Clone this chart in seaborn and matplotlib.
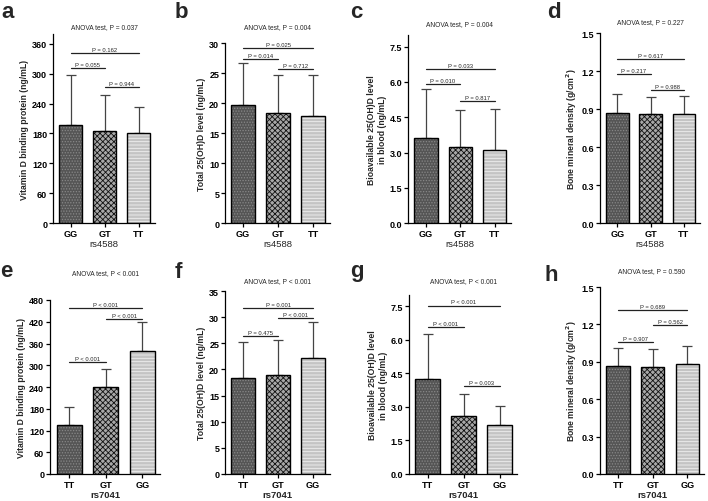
import numpy as np
import pandas as pd
import matplotlib
matplotlib.use("Agg")
import matplotlib.pyplot as plt
import seaborn as sns
from matplotlib.patches import Rectangle

sns.set_style("ticks")
plt.rcParams["font.family"] = ["Liberation Sans", "DejaVu Sans"]
plt.rcParams["hatch.linewidth"] = 0.6

# ---------------- data ----------------
rs4588_genotypes = ["GG", "GT", "TT"]
rs7041_genotypes = ["TT", "GT", "GG"]

# a: VDBP by rs4588
vdbp_rs4588_mean = [198, 185, 181]
vdbp_rs4588_sd = [99, 73, 52]
vdbp_rs4588_brk = [341, 311, 273]
vdbp_rs4588_p = ["P = 0.162", "P = 0.055", "P = 0.944"]
# b: total 25(OH)D by rs4588
tot_rs4588_mean = [19.6, 18.4, 17.8]
tot_rs4588_sd = [7.1, 6.3, 6.9]
tot_rs4588_brk = [29.2, 27.3, 25.7]
tot_rs4588_p = ["P = 0.025", "P = 0.014", "P = 0.712"]
# c: bioavailable 25(OH)D by rs4588
bio_rs4588_mean = [3.63, 3.23, 3.12]
bio_rs4588_sd = [2.09, 1.56, 1.72]
bio_rs4588_brk = [6.54, 5.91, 5.20]
bio_rs4588_p = ["P = 0.033", "P = 0.010", "P = 0.817"]
# d: BMD by rs4588
bmd_rs4588_mean = [0.871, 0.858, 0.860]
bmd_rs4588_sd = [0.148, 0.137, 0.146]
bmd_rs4588_brk = [1.292, 1.176, 1.048]
bmd_rs4588_p = ["P = 0.617", "P = 0.217", "P = 0.988"]

# e: VDBP by rs7041
vdbp_rs7041_mean = [134, 239, 340]
vdbp_rs7041_sd = [52, 52, 78]
vdbp_rs7041_brk = [459, 427, 309]
vdbp_rs7041_p = ["P < 0.001", "P < 0.001", "P < 0.001"]
# f: total 25(OH)D by rs7041
tot_rs7041_mean = [18.4, 19.0, 22.2]
tot_rs7041_sd = [6.8, 6.6, 6.8]
tot_rs7041_brk = [31.8, 29.8, 26.4]
tot_rs7041_p = ["P = 0.001", "P < 0.001", "P = 0.475"]
# g: bioavailable 25(OH)D by rs7041
bio_rs7041_mean = [4.23, 2.59, 2.21]
bio_rs7041_sd = [2.01, 0.99, 0.82]
bio_rs7041_brk = [7.53, 6.58, 3.92]
bio_rs7041_p = ["P < 0.001", "P < 0.001", "P = 0.003"]
# h: BMD by rs7041
bmd_rs7041_mean = [0.864, 0.859, 0.880]
bmd_rs7041_sd = [0.147, 0.146, 0.147]
bmd_rs7041_brk = [1.317, 1.197, 1.061]
bmd_rs7041_p = ["P = 0.689", "P = 0.562", "P = 0.907"]

top_pairs = [(0, 2), (0, 1), (1, 2)]
e_pairs = [(0, 2), (1, 2), (0, 1)]
g_pairs = [(0, 2), (0, 1), (1, 2)]

anova = ["ANOVA test, P = 0.037", "ANOVA test, P = 0.004", "ANOVA test, P = 0.004",
         "ANOVA test, P = 0.227", "ANOVA test, P < 0.001", "ANOVA test, P < 0.001",
         "ANOVA test, P < 0.001", "ANOVA test, P = 0.590"]
letters = ["a", "b", "c", "d", "e", "f", "g", "h"]

ylab_vdbp = "Vitamin D binding protein (ng/mL)"
ylab_tot = "Total 25(OH)D level (ng/mL)"
ylab_bio = "Bioavailable 25(OH)D level\nin blood (ng/mL)"
ylab_bmd = "Bone mineral density (g/cm$\\mathbf{^2}$)"

yt_vdbp4588 = [0, 60, 120, 180, 240, 300, 360]
yt_vdbp7041 = [0, 60, 120, 180, 240, 300, 360, 420, 480]
yt_tot4588 = [0, 5, 10, 15, 20, 25, 30]
yt_tot7041 = [0, 5, 10, 15, 20, 25, 30, 35]
yt_bio = [0.0, 1.5, 3.0, 4.5, 6.0, 7.5]
yt_bmd = [0.0, 0.3, 0.6, 0.9, 1.2, 1.5]

panels = [
    dict(cats=rs4588_genotypes, mean=vdbp_rs4588_mean, sd=vdbp_rs4588_sd, brk=vdbp_rs4588_brk,
         p=vdbp_rs4588_p, pairs=top_pairs, ylabel=ylab_vdbp, xlabel="rs4588", yt=yt_vdbp4588, fmt="{:.0f}"),
    dict(cats=rs4588_genotypes, mean=tot_rs4588_mean, sd=tot_rs4588_sd, brk=tot_rs4588_brk,
         p=tot_rs4588_p, pairs=top_pairs, ylabel=ylab_tot, xlabel="rs4588", yt=yt_tot4588, fmt="{:.0f}"),
    dict(cats=rs4588_genotypes, mean=bio_rs4588_mean, sd=bio_rs4588_sd, brk=bio_rs4588_brk,
         p=bio_rs4588_p, pairs=top_pairs, ylabel=ylab_bio, xlabel="rs4588", yt=yt_bio, fmt="{:.1f}"),
    dict(cats=rs4588_genotypes, mean=bmd_rs4588_mean, sd=bmd_rs4588_sd, brk=bmd_rs4588_brk,
         p=bmd_rs4588_p, pairs=top_pairs, ylabel=ylab_bmd, xlabel="rs4588", yt=yt_bmd, fmt="{:.1f}"),
    dict(cats=rs7041_genotypes, mean=vdbp_rs7041_mean, sd=vdbp_rs7041_sd, brk=vdbp_rs7041_brk,
         p=vdbp_rs7041_p, pairs=e_pairs, ylabel=ylab_vdbp, xlabel="rs7041", yt=yt_vdbp7041, fmt="{:.0f}"),
    dict(cats=rs7041_genotypes, mean=tot_rs7041_mean, sd=tot_rs7041_sd, brk=tot_rs7041_brk,
         p=tot_rs7041_p, pairs=e_pairs, ylabel=ylab_tot, xlabel="rs7041", yt=yt_tot7041, fmt="{:.0f}"),
    dict(cats=rs7041_genotypes, mean=bio_rs7041_mean, sd=bio_rs7041_sd, brk=bio_rs7041_brk,
         p=bio_rs7041_p, pairs=g_pairs, ylabel=ylab_bio, xlabel="rs7041", yt=yt_bio, fmt="{:.1f}"),
    dict(cats=rs7041_genotypes, mean=bmd_rs7041_mean, sd=bmd_rs7041_sd, brk=bmd_rs7041_brk,
         p=bmd_rs7041_p, pairs=e_pairs, ylabel=ylab_bmd, xlabel="rs7041", yt=yt_bmd, fmt="{:.1f}"),
]

# ---------------- layout (pixels) ----------------
W, H = 708, 502
# left, width, top, bottom, ymax
boxes = [
    (53, 102, 35, 224, 380),
    (225, 105, 44, 224, 30),
    (408, 103, 36, 224, 8.0),
    (600, 100, 34, 224, 1.5),
    (50, 110, 301, 475, 480),
    (225, 105, 292, 475, 35),
    (409, 108, 296, 475, 8.0),
    (600, 104, 288, 475, 1.5),
]
title_y = [28, 28, 25, 23, 274, 282, 282, 272]
letter_pos = [(1, 18), (175, 18), (350, 18), (547, 18), (0, 277), (175, 278), (350, 277), (545, 281)]

faces = ["#555555", "#a8a8a8", "#c4c4c4"]
hatches = ["......", "xxxxxx", "-----"]
hcols = ["#888888", "#111111", "#f0f0f0"]

fig = plt.figure(figsize=(W / 100, H / 100), dpi=100)
fig.patch.set_facecolor("white")

for i, (pn, box) in enumerate(zip(panels, boxes)):
    left, width, top, bottom, ymax = box
    ax = fig.add_axes([left / W, 1 - bottom / H, width / W, (bottom - top) / H])
    df = pd.DataFrame({"geno": pn["cats"], "val": pn["mean"]})
    sns.barplot(data=df, x="geno", y="val", order=pn["cats"], ax=ax, width=0.68,
                color="gray", errorbar=None, zorder=2)
    centers = []
    for j, p in enumerate(ax.patches):
        p.set_facecolor(faces[j])
        p.set_hatch(hatches[j])
        p.set_edgecolor(hcols[j])
        p.set_linewidth(0)
        ax.add_patch(Rectangle((p.get_x(), p.get_y()), p.get_width(), p.get_height(),
                               fill=False, edgecolor="black", linewidth=1.0, zorder=3))
        centers.append(p.get_x() + p.get_width() / 2)
    ax.errorbar(centers, pn["mean"], yerr=[np.zeros(3), pn["sd"]], fmt="none",
                ecolor="#444444", elinewidth=0.9, capsize=3.6, capthick=0.9, zorder=1)
    for (a, b), h, t in zip(pn["pairs"], pn["brk"], pn["p"]):
        ax.plot([centers[a], centers[b]], [h, h], color="#222222", lw=0.9, clip_on=False)
        ax.annotate(t, xy=((centers[a] + centers[b]) / 2, h), xytext=(0, 0.8),
                    textcoords="offset points", ha="center", va="bottom", fontsize=4.2,
                    annotation_clip=False)
    ax.set_xlim(-0.52, 2.48)
    ax.set_ylim(0, ymax)
    ax.set_yticks(pn["yt"], labels=[pn["fmt"].format(v) for v in pn["yt"]],
                  fontweight="bold", fontsize=6.5)
    ax.set_xticks(range(3), labels=pn["cats"], fontweight="bold", fontsize=6.6)
    ax.tick_params(direction="out", length=3, width=0.9, pad=1.2, colors="black")
    sns.despine(ax=ax)
    for s in ("left", "bottom"):
        ax.spines[s].set_linewidth(0.9)
        ax.spines[s].set_color("black")
    ax.set_ylabel(pn["ylabel"], fontsize=6.2, fontweight="bold", labelpad=2)
    ax.set_xlabel(pn["xlabel"], fontsize=6.8, labelpad=0.5,
                  fontweight="bold" if i >= 4 else "normal")
    fig.text((left + width / 2) / W, 1 - title_y[i] / H, anova[i], ha="center", va="center",
             fontsize=4.8)
    lx, ly = letter_pos[i]
    fig.text(lx / W, 1 - ly / H, letters[i], ha="left", va="baseline", fontsize=16,
             fontweight="bold")

fig.savefig("out.png", dpi=100, facecolor="white")
